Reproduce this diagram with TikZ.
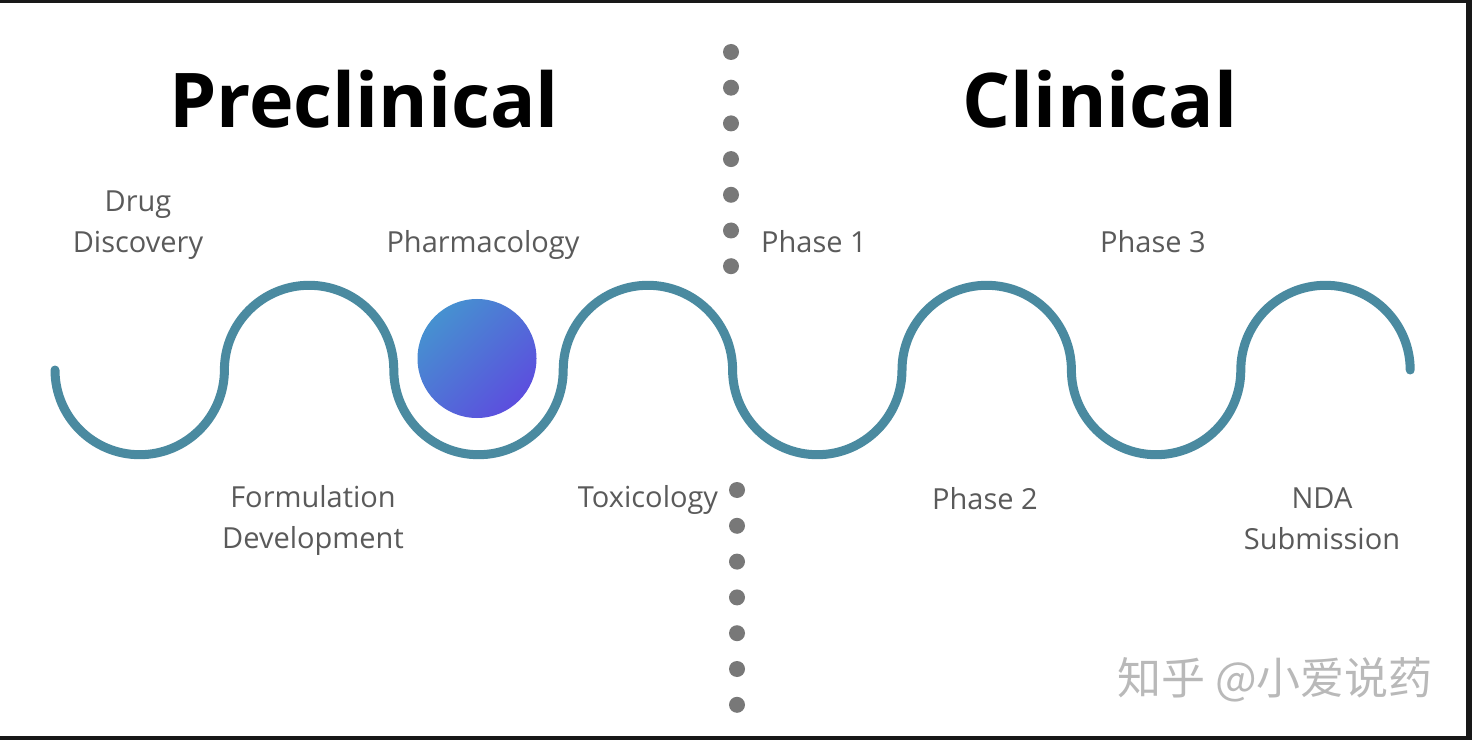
\documentclass[tikz,border=0pt]{standalone}
\usepackage{fontspec}
\setmainfont{Open Sans}
\newfontfamily\cjk{Noto Sans CJK SC}
\usetikzlibrary{positioning}

\definecolor{wavecol}{RGB}{74,138,160}
\definecolor{ballA}{RGB}{70,145,208}
\definecolor{ballB}{RGB}{92,78,222}
\definecolor{dotcol}{RGB}{120,120,120}
\definecolor{labcol}{RGB}{90,90,90}
\definecolor{framecol}{RGB}{24,24,24}

\tikzset{
  wave/.style={draw=wavecol, line width=9pt, line cap=round},
  sepdot/.style={fill=dotcol},
  head/.style={anchor=base, inner sep=0pt, font=\fontsize{75.5}{80}\bfseries\selectfont},
  lab/.style={inner sep=0pt, text=labcol, align=center, font=\fontsize{29}{41}\selectfont},
  wmark/.style={inner sep=0pt, text=gray!55, font=\fontsize{44}{50}\cjk\selectfont}
}

\begin{document}
\begin{tikzpicture}[x=1pt,y=1pt]

\useasboundingbox (0,0) rectangle (1472,740);
\fill[white] (0,0) rectangle (1472,740);

% frame
\fill[framecol] (0,737) rectangle (1472,740);
\fill[framecol] (1466,0) rectangle (1472,740);
\fill[framecol] (0,0) rectangle (1472,4);

% wave
\def\r{84.7}
\draw[wave] (55,370) \foreach \i in {1,...,4}{
  arc[start angle=180, end angle=360, radius=\r]
  arc[start angle=180, end angle=0, radius=\r]};

% ball
\shade[shading=axis, top color=ballA, middle color=ballA!60!ballB, bottom color=ballB, shading angle=45]
  (477,381.5) circle (59.5);

% dotted separator
\foreach \y in {0,...,6}
  \fill[sepdot] (731,688-35.7*\y) circle (8);
\foreach \y in {0,...,6}
  \fill[sepdot] (737,250-35.8*\y) circle (8);

\node[head] (h1) at (364,612) {Preclinical};
\node[head] (h2) at (1100,612) {Clinical};

\node[lab] (t1) at (138,515) {Drug\\Discovery};
\node[lab, anchor=base] (t2) at (483,487) {Pharmacology};
\node[lab, anchor=base] (t3) at (814,487) {Phase 1};
\node[lab, anchor=base] (t4) at (1153,487) {Phase 3};
\node[lab] (t5) at (313,220) {Formulation\\Development};
\node[lab, anchor=base] (t6) at (648,233) {Toxicology};
\node[lab, anchor=base] (t7) at (985,231) {Phase 2};
\node[lab] (t8) at (1322,221) {NDA\\Submission};

\node[wmark] (w1) at (1275,60) {知乎 @小爱说药};

\end{tikzpicture}
\end{document}
